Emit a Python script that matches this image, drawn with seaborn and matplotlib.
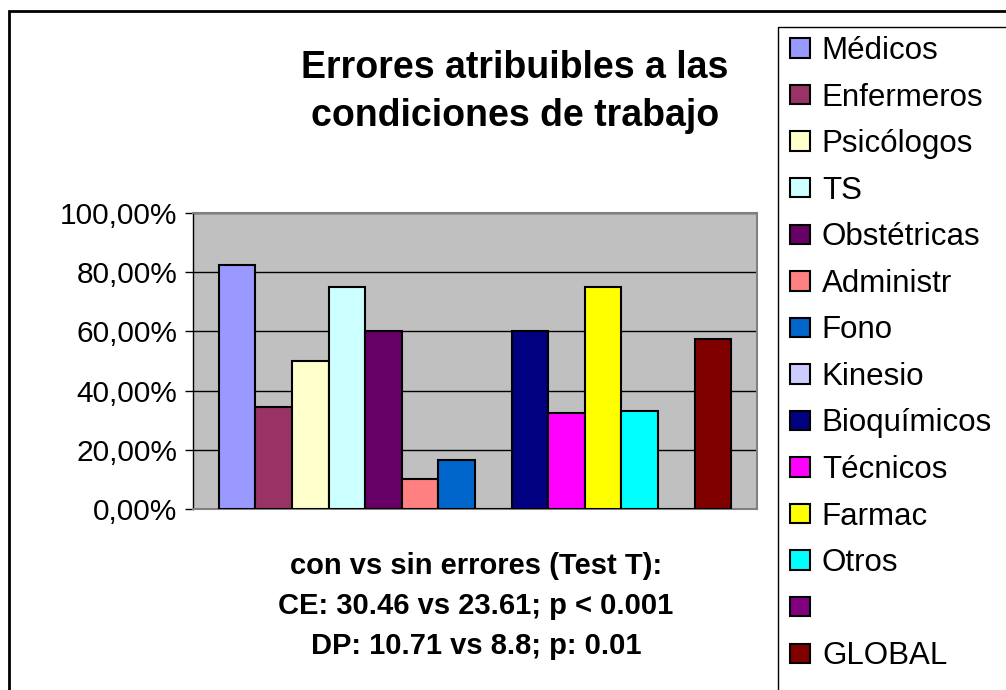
import matplotlib
matplotlib.use("Agg")
import matplotlib.pyplot as plt
from matplotlib.patches import Patch, Rectangle
from matplotlib.ticker import FuncFormatter
import seaborn as sns
import pandas as pd

# values
categories = ["Médicos", "Enfermeros", "Psicólogos", "TS", "Obstétricas", "Administr",
              "Fono", "Kinesio", "Bioquímicos", "Técnicos", "Farmac", "Otros", "", "GLOBAL"]
values = [0.826, 0.345, 0.50, 0.75, 0.60, 0.10, 0.167, 0.0, 0.60, 0.323, 0.75, 0.33, 0.0, 0.575]
colors = ["#9999FF", "#993366", "#FFFFCC", "#CCFFFF", "#660066", "#FF8080", "#0066CC",
          "#CCCCFF", "#000080", "#FF00FF", "#FFFF00", "#00FFFF", "#800080", "#800000"]
y_ticks = [0.0, 0.2, 0.4, 0.6, 0.8, 1.0]

title = "Errores atribuibles a las\ncondiciones de trabajo"
note = "con vs sin errores (Test T):\nCE: 30.46 vs 23.61; p < 0.001\nDP: 10.71 vs 8.8; p: 0.01"

sns.set_style("white")
plt.rcParams['font.family'] = ['Liberation Sans', 'DejaVu Sans']
plt.rcParams['text.color'] = 'black'
plt.rcParams['ytick.color'] = 'black'

df = pd.DataFrame({"grupo": categories, "valor": values})
palette = dict(zip(categories, colors))

fig = plt.figure(figsize=(10.06, 6.9), dpi=100)
ax = fig.add_axes([193 / 1006, 1 - 509 / 690, 564 / 1006, 296 / 690])
ax.set_facecolor("#C0C0C0")

sns.barplot(data=df, x="grupo", y="valor", hue="grupo", palette=palette, order=categories,
            hue_order=categories, width=1.0, saturation=1, edgecolor="black", linewidth=1.5,
            legend=False, ax=ax, zorder=3)

ax.set_xlim(-1.2, 14.2)
ax.set_ylim(0, 1)
ax.set_yticks(y_ticks)
ax.yaxis.set_major_formatter(FuncFormatter(lambda v, _: f"{v * 100:.2f}%".replace(".", ",")))
ax.yaxis.grid(True, color="black", linewidth=1.0, zorder=0)
ax.set_axisbelow(True)
ax.set_xticks([])
ax.set_xlabel("")
ax.set_ylabel("")
ax.tick_params(axis="y", direction="out", length=6, width=1, color="black",
               labelsize=21.5, labelcolor="black", pad=5, left=True)
for side in ["top", "right", "bottom"]:
    ax.spines[side].set_color("#808080")
    ax.spines[side].set_linewidth(1.5)
ax.spines["left"].set_color("black")
ax.spines["left"].set_linewidth(1.0)

# titles and statistics note
fig.text(515 / 1006, 1 - 92 / 690, title, ha="center", va="center",
         fontsize=27, fontweight="bold", linespacing=1.45)
fig.text(476 / 1006, 1 - 606 / 690, note, ha="center", va="center",
         fontsize=21, fontweight="bold", linespacing=1.56)

# outer chart frame and legend frame (both run past the image edge)
fig.patches.append(Rectangle((9 / 1006, -0.1), 1.2, 1.1 - 11 / 690,
                             transform=fig.transFigure, fill=False, edgecolor="black",
                             linewidth=2))
fig.patches.append(Rectangle((778 / 1006, -0.1), 0.5, 1.1 - 27 / 690,
                             transform=fig.transFigure, fill=False, edgecolor="black",
                             linewidth=1))

handles = [Patch(facecolor=c, edgecolor="black", linewidth=1.5) for c in colors]
fig.legend(handles, categories, loc="upper left", bbox_to_anchor=(790 / 1006, 1 - 36 / 690),
           frameon=False, fontsize=22.5, handlelength=0.64, handleheight=0.58,
           handletextpad=0.38, labelspacing=0.53, borderaxespad=0, borderpad=0)

fig.savefig("out.png", dpi=100, facecolor="white")
